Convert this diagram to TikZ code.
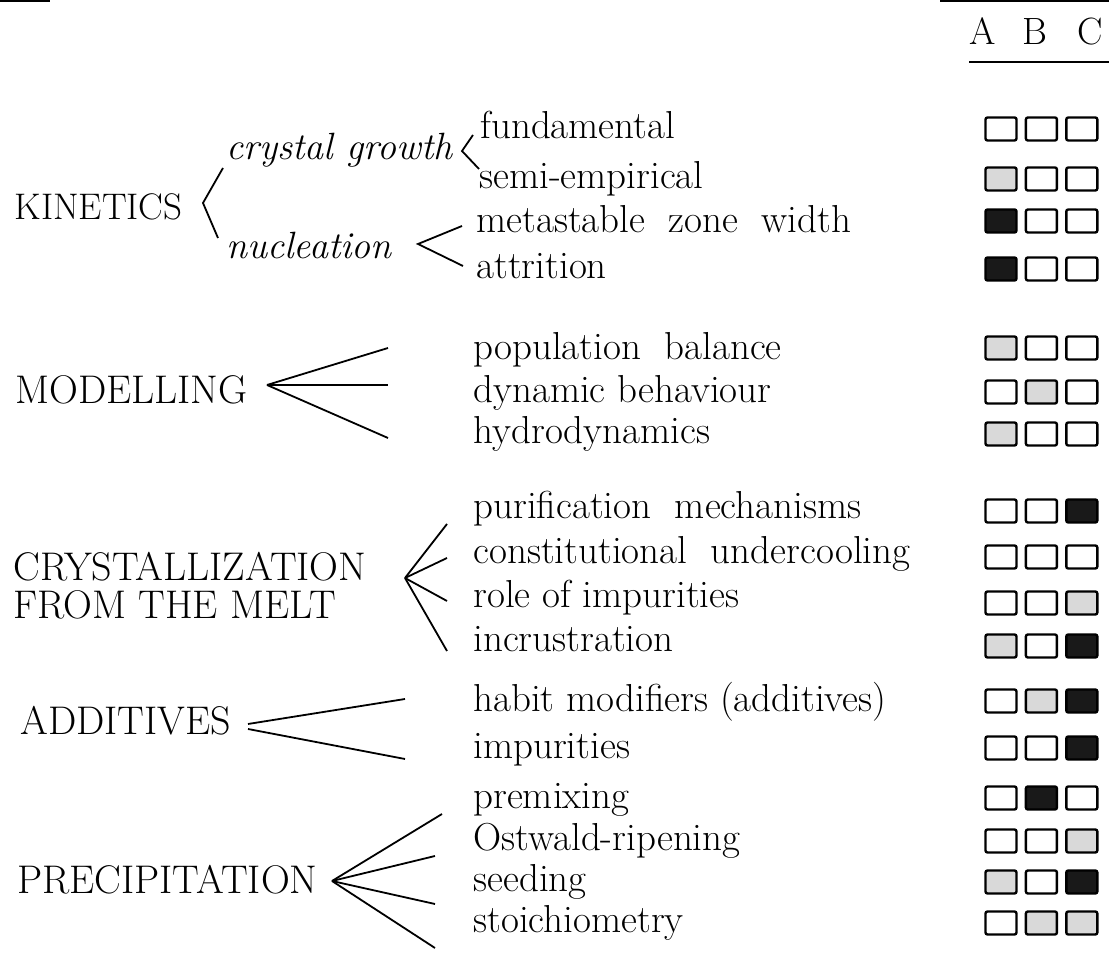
\documentclass[tikz,border=0pt]{standalone}
\usetikzlibrary{positioning}
\tikzset{
  head/.style={font=\fontsize{20}{22}\selectfont, anchor=base west, inner sep=0pt},
  sub/.style={font=\fontsize{19}{22}\selectfont\itshape, anchor=base west, inner sep=0pt},
  topic/.style={font=\fontsize{19.5}{22}\selectfont, anchor=base west, inner sep=0pt},
  col/.style={font=\fontsize{19}{20}\selectfont, anchor=base, inner sep=0pt},
  cell/.style={draw, line width=1.2pt, rounded corners=1pt, minimum width=15.5pt, minimum height=11.5pt, inner sep=0pt},
  lite/.style={cell, fill=black!15},
  dark/.style={cell, fill=black!90},
  fan/.style={line width=0.9pt},
}
\begin{document}
\begin{tikzpicture}[x=0.5pt, y=-0.5pt]
  \useasboundingbox (0,0) rectangle (1109,977);
  % rules of the page
  \draw[line width=1.5pt] (0,1) -- (50,1);
  \draw[line width=1.5pt] (940,1) -- (1109,1);
  \draw[line width=1pt] (969,62) -- (1109,62);

  % column heads
  \node[col] (ha) at (983,45) {A};
  \node[col] (hb) at (1035,45) {B};
  \node[col] (hc) at (1090,45) {C};

  % main headings
  \node[head, font=\fontsize{18.5}{22}\selectfont] (kin) at (14,220) {KINETICS};
  \node[head] (mod) at (15,404) {MODELLING};
  \node[head] (cry) at (13,581) {CRYSTALLIZATION};
  \node[head] (melt) at (13,619) {FROM THE MELT};
  \node[head] (add) at (20,735) {ADDITIVES};
  \node[head] (pre) at (17,894) {PRECIPITATION};

  \node[sub] (grow) at (226,160) {crystal growth};
  \node[sub] (nuc) at (226,259) {nucleation};

  % topics
  \node[topic] (t1) at (480,139) {fundamental};
  \node[topic] (t2) at (479,189) {semi-empirical};
  \node[topic] (t3) at (476,233) {metastable\ \ zone\ \ width};
  \node[topic] (t4) at (476,279) {attrition};
  \node[topic] (t5) at (473,360) {population\ \ balance};
  \node[topic] (t6) at (473,403) {dynamic behaviour};
  \node[topic] (t7) at (473,444) {hydrodynamics};
  \node[topic] (t8) at (473,519) {purification\ \ mechanisms};
  \node[topic] (t9) at (473,564) {constitutional\ \ undercooling};
  \node[topic] (t10) at (473,608) {role of impurities};
  \node[topic] (t11) at (473,652) {incrustration};
  \node[topic] (t12) at (473,712) {habit modifiers (additives)};
  \node[topic] (t13) at (473,759) {impurities};
  \node[topic] (t14) at (473,809) {premixing};
  \node[topic] (t15) at (473,851) {Ostwald-ripening};
  \node[topic] (t16) at (473,892) {seeding};
  \node[topic] (t17) at (473,933) {stoichiometry};

  % score boxes
  \foreach \r/\y/\ka/\kb/\kc in {1/129/cell/cell/cell, 2/179/lite/cell/cell,
      3/221/dark/cell/cell, 4/269/dark/cell/cell, 5/348/lite/cell/cell,
      6/392/cell/lite/cell, 7/434/lite/cell/cell, 8/511/cell/cell/dark,
      9/557/cell/cell/cell, 10/603/cell/cell/lite, 11/646/lite/cell/dark,
      12/701/cell/lite/dark, 13/748/cell/cell/dark, 14/798/cell/dark/cell,
      15/841/cell/cell/lite, 16/882/lite/cell/dark, 17/923/cell/lite/lite} {
    \node[\ka] (c\r a) at (1001,\y) {};
    \node[\kb, right=3.5pt of c\r a] (c\r b) {};
    \node[\kc, right=3.5pt of c\r b] (c\r c) {};
  }

  % brackets
  \coordinate (kv) at (203,203);
  \draw[fan] (223,168) coordinate (kt) -- (kv) -- (218,238) coordinate (kb);
  \coordinate (gv) at (462,151);
  \draw[fan] (473,135) coordinate (gt) -- (gv) -- (479,169) coordinate (gb);
  \coordinate (nv) at (418,244);
  \draw[fan] (462,226) coordinate (nt) -- (nv) -- (463,266) coordinate (nb);

  \coordinate (mv) at (267,385);
  \foreach \e in {348,385,438} \draw[fan] (mv) -- (388,\e);

  \coordinate (cv) at (405,578);
  \foreach \e in {524,558,601,651} \draw[fan] (cv) -- (447,\e);

  \coordinate (av) at (248,726);
  \draw[fan] ([yshift=1pt]av) -- (405,699);
  \draw[fan] ([yshift=-1.5pt]av) -- (405,759);

  \coordinate (pv) at (332,881);
  \draw[fan] (pv) -- (442,814);
  \foreach \e in {856,904,948} \draw[fan] (pv) -- (435,\e);
\end{tikzpicture}
\end{document}
